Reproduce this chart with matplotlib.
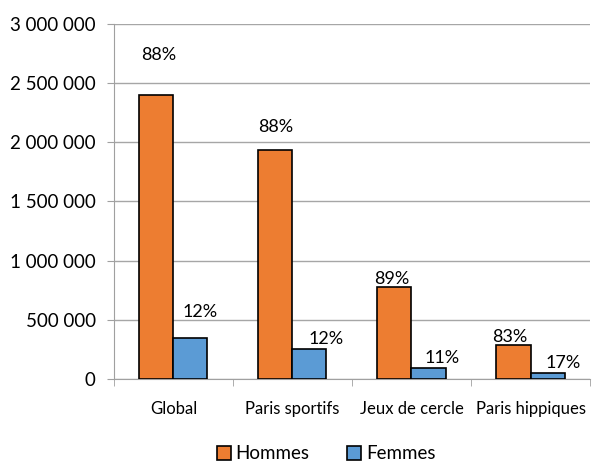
import matplotlib.pyplot as plt
import numpy as np

categories = ['Global', 'Paris sportifs', 'Jeux de cercle', 'Paris hippiques']
hommes = [2400000, 1935000, 780000, 287000]
femmes = [345000, 255000, 93000, 52000]
hommes_pct = ['88%', '88%', '89%', '83%']
femmes_pct = ['12%', '12%', '11%', '17%']
yticks = [0, 500000, 1000000, 1500000, 2000000, 2500000, 3000000]

plt.rcParams['font.family'] = ['Lato', 'DejaVu Sans']

fig = plt.figure(figsize=(5.93, 4.62), dpi=100)
ax = fig.add_axes([0.192, 0.180, 0.803, 0.768])

x = np.arange(len(categories))
w = 0.286
b1 = ax.bar(x - w / 2, hommes, w, color='#ed7d31', edgecolor='black', linewidth=1.2, label='Hommes', zorder=3)
b2 = ax.bar(x + w / 2, femmes, w, color='#5b9bd5', edgecolor='black', linewidth=1.2, label='Femmes', zorder=3)

# label offsets (points) as in the original excel chart
h_off = [(2, 23), (0, 11), (-2, 0), (-3, 0)]
f_off = [(7, 13), (12, 1), (10, 1), (11, 1)]
for rect, txt, off in zip(b1, hommes_pct, h_off):
    ax.annotate(txt, (rect.get_x() + rect.get_width() / 2, rect.get_height()),
                xytext=off, textcoords='offset points', ha='center', va='bottom', fontsize=13)
for rect, txt, off in zip(b2, femmes_pct, f_off):
    ax.annotate(txt, (rect.get_x() + rect.get_width() / 2, rect.get_height()),
                xytext=off, textcoords='offset points', ha='center', va='bottom', fontsize=13)

ax.set_xlim(-0.5, len(categories) - 0.5)
ax.set_ylim(0, 3000000)
ax.set_yticks(yticks)
ax.set_yticklabels(['{:,}'.format(v).replace(',', ' ') for v in yticks], fontsize=13.5)
ax.set_xticks(x)
ax.set_xticklabels(categories, fontsize=12)
ax.set_xticks(np.arange(len(categories) + 1) - 0.5, minor=True)
ax.tick_params(axis='x', which='major', length=0, pad=16)
ax.tick_params(axis='x', which='minor', length=5, color='#a0a0a0', direction='out')
ax.tick_params(axis='y', length=5, color='#a0a0a0', pad=8)

ax.grid(axis='y', color='#a6a6a6', linewidth=1, zorder=0)
for s in ['top', 'right']:
    ax.spines[s].set_visible(False)
ax.spines['left'].set_color('#a0a0a0')
ax.spines['bottom'].set_color('#a0a0a0')

fig.legend(handles=[b1, b2], loc='center', bbox_to_anchor=(0.55, 0.018), ncol=2,
           frameon=False, fontsize=13.5, handlelength=0.75, handleheight=0.75,
           handletextpad=0.25, columnspacing=2.0, borderpad=0)

plt.savefig('out.png', dpi=100)
